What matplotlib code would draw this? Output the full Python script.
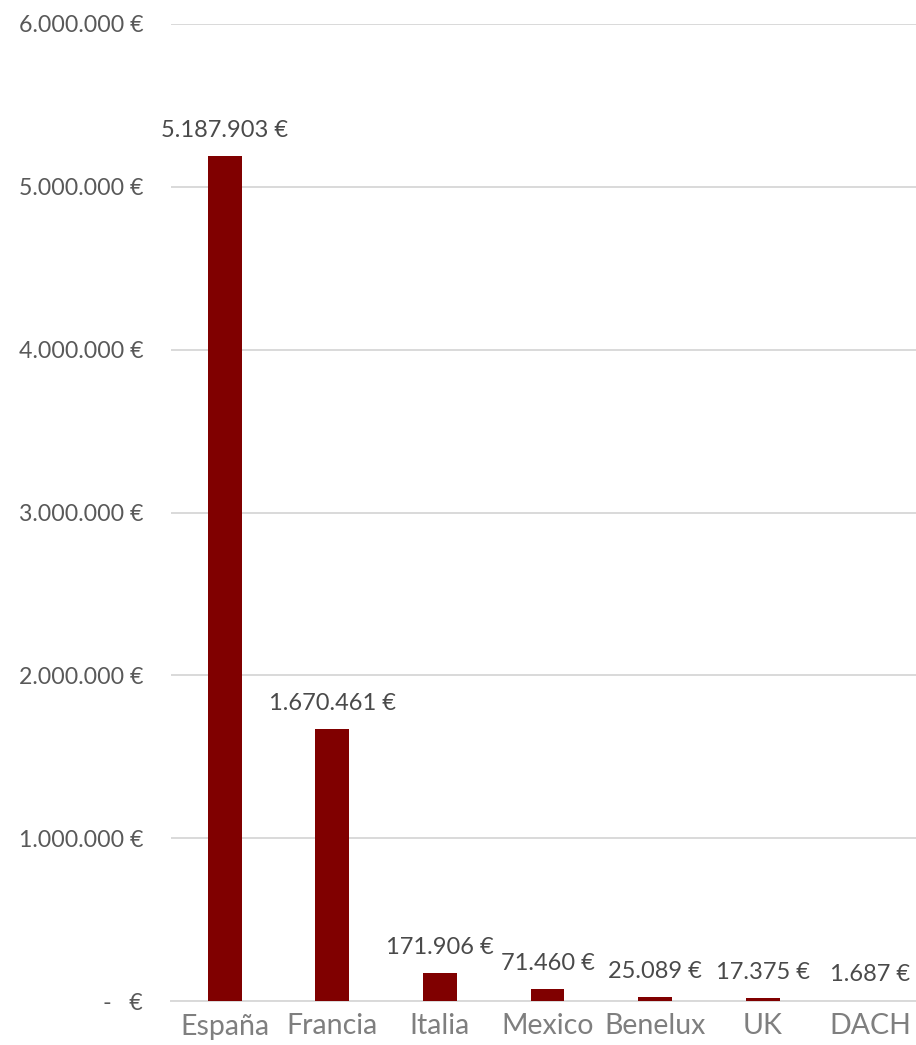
import matplotlib.pyplot as plt
from matplotlib.ticker import FixedLocator

plt.rcParams['font.family'] = ['Lato', 'DejaVu Sans']

regions = ["España", "Francia", "Italia", "Mexico", "Benelux", "UK", "DACH"]
sales = [5187903, 1670461, 171906, 71460, 25089, 17375, 1687]
y_ticks = [0, 1000000, 2000000, 3000000, 4000000, 5000000, 6000000]


def eur(v):
    if v == 0:
        return "-   €"
    return f"{v:,.0f} €".replace(",", ".")


fig = plt.figure(figsize=(9.16, 10.45), dpi=100)
ax = fig.add_axes([171 / 916, 44 / 1045, 753 / 916, 977 / 1045])

x = range(len(regions))
bars = ax.bar(x, sales, width=0.316, color="#800000", zorder=3)

for xi, v in zip(x, sales):
    ax.annotate(eur(v), (xi, v), xytext=(0, 11), textcoords="offset points",
                ha="center", va="bottom", fontsize=17, color="#4a4a4a")

ax.set_xlim(-0.5, len(regions) - 0.5)
ax.set_ylim(0, 6000000)
ax.yaxis.set_major_locator(FixedLocator(y_ticks))
ax.set_yticklabels([eur(v) for v in y_ticks])
ax.set_xticks(list(x))
ax.set_xticklabels(regions)

ax.grid(axis="y", color="#d9d9d9", linewidth=1.4, zorder=0)
for s in ["top", "right", "left"]:
    ax.spines[s].set_visible(False)
ax.spines["bottom"].set_color("#d9d9d9")
ax.spines["bottom"].set_linewidth(1.4)
ax.tick_params(axis="y", length=0, pad=20, labelsize=16.7, labelcolor="#595959")
ax.tick_params(axis="x", length=0, pad=9, labelsize=20.5, labelcolor="#7f7f7f")

fig.savefig("out.png", dpi=100)
plt.close(fig)
